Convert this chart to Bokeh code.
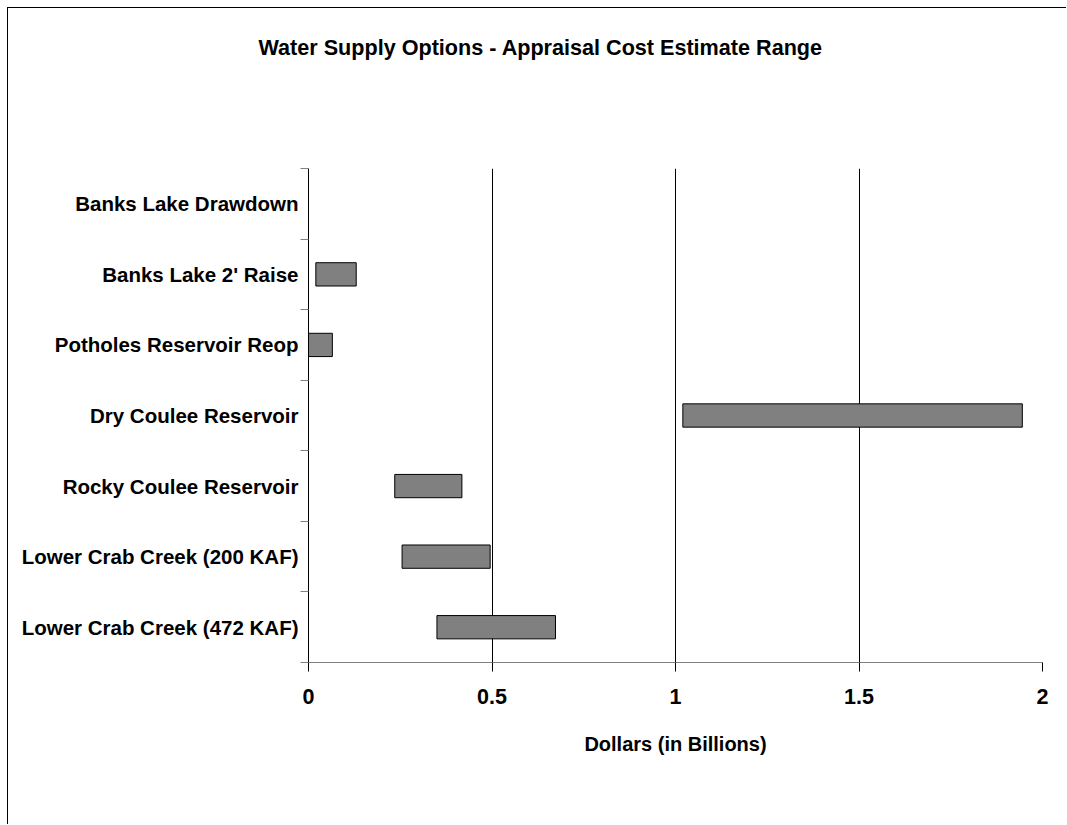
from bokeh.plotting import figure
from bokeh.models import Range1d, FixedTicker
from bokeh.embed import file_html
from bokeh.resources import INLINE

# ---- data ----
categories = [
    "Banks Lake Drawdown",
    "Banks Lake 2' Raise",
    "Potholes Reservoir Reop",
    "Dry Coulee Reservoir",
    "Rocky Coulee Reservoir",
    "Lower Crab Creek (200 KAF)",
    "Lower Crab Creek (472 KAF)",
]
low = [0.0, 0.02, 0.0, 1.02, 0.235, 0.255, 0.35]
high = [0.0, 0.13, 0.065, 1.945, 0.418, 0.495, 0.673]
x_ticks = [0, 0.5, 1, 1.5, 2]
x_tick_labels = ["0", "0.5", "1", "1.5", "2"]

title_text = "Water Supply Options - Appraisal Cost Estimate Range"
x_label = "Dollars (in Billions)"

FONT = "Liberation Sans"
n = len(categories)
ypos = [n - 1 - i + 0.5 for i in range(n)]

p = figure(
    width=1059, height=817,
    x_range=Range1d(0, 2), y_range=Range1d(0, n),
    output_backend="svg", toolbar_location=None,
    min_border_left=300, min_border_right=25,
    min_border_top=160, min_border_bottom=163,
)
p.styles = {"border-left": "1px solid black", "border-top": "1px solid black",
            "margin-left": "7px", "margin-top": "7px"}
p.outline_line_color = None
p.background_fill_color = "white"
p.border_fill_color = "white"

# title: blank trailing lines lift it well above the plot area
p.title.text = title_text + "\n \n \n \n "
p.title.align = "left"
p.title.offset = -50
p.title.text_font = FONT
p.title.text_font_style = "bold"
p.title.text_font_size = "21.6px"
p.title.text_color = "black"
p.title.standoff = 18

# bars
p.hbar(y=ypos, left=low, right=high, height=0.33,
       fill_color="#808080", line_color="black", line_width=1)

# x axis
xa = p.xaxis[0]
xa.ticker = FixedTicker(ticks=x_ticks, minor_ticks=[])
xa.major_label_overrides = {t: l for t, l in zip(x_ticks, x_tick_labels)}
xa.major_label_text_font = FONT
xa.major_label_text_font_style = "bold"
xa.major_label_text_font_size = "21.5px"
xa.major_label_text_color = "black"
xa.major_tick_out = 9
xa.major_tick_in = 0
xa.major_tick_line_color = "black"
xa.minor_tick_line_color = None
xa.axis_line_color = "#808080"
xa.major_label_standoff = 17
xa.axis_label = x_label
xa.axis_label_text_font = FONT
xa.axis_label_text_font_style = "bold"
xa.axis_label_text_font_size = "20px"
xa.axis_label_text_color = "black"
xa.axis_label_standoff = 26

# y axis
ya = p.yaxis[0]
ya.ticker = FixedTicker(ticks=ypos, minor_ticks=list(range(n + 1)))
ya.major_label_overrides = {y: c for y, c in zip(ypos, categories)}
ya.major_label_text_font = FONT
ya.major_label_text_font_style = "bold"
ya.major_label_text_font_size = "20.5px"
ya.major_label_text_color = "black"
ya.major_tick_out = 0
ya.major_tick_in = 0
ya.minor_tick_out = 8
ya.minor_tick_in = 0
ya.minor_tick_line_color = "#808080"
ya.axis_line_color = "black"
ya.major_label_standoff = 2

# grid
p.ygrid.visible = False
p.xgrid.ticker = FixedTicker(ticks=x_ticks)
p.xgrid.grid_line_color = "black"
p.xgrid.grid_line_alpha = 1.0

open("out.html", "w").write(file_html(p, INLINE))
